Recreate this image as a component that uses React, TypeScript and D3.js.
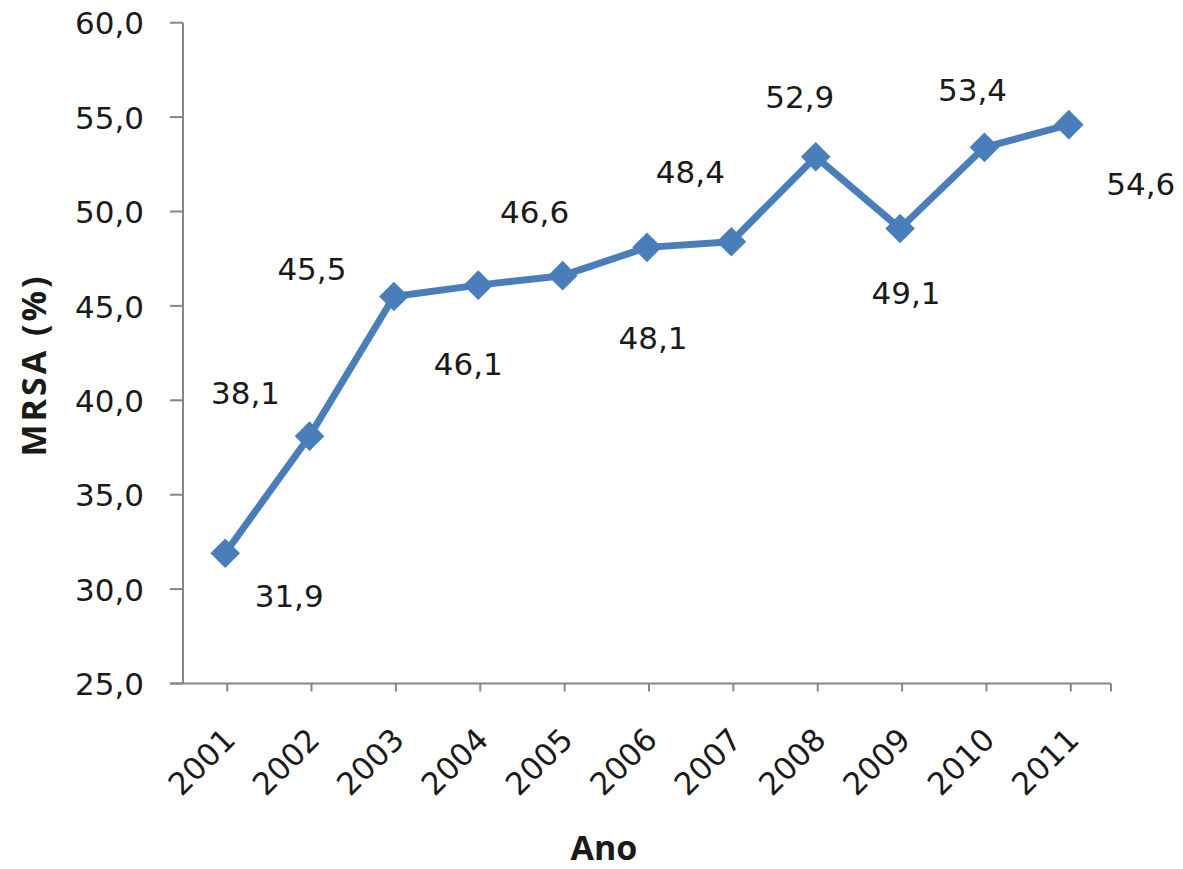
import React from "react";
import * as d3 from "d3";

// Annual MRSA share (%) of isolates
const years = ["2001", "2002", "2003", "2004", "2005", "2006", "2007", "2008", "2009", "2010", "2011"];
const mrsa = [31.9, 38.1, 45.5, 46.1, 46.6, 48.1, 48.4, 52.9, 49.1, 53.4, 54.6];
const yTicks = [25, 30, 35, 40, 45, 50, 55, 60];

// Per-point label placement (offset of label centre/baseline from the marker)
const labelOffsets: [number, number][] = [
  [64, 54], [-64, -32], [-82, -16], [-10, 90], [-28, -53], [6, 102],
  [-41, -59], [-16, -49], [6, 76], [-12, -46], [72, 70],
];

const W = 1183;
const H = 869;
const left = 183;
const right = 1111;
const top = 22.7;
const bottom = 683.5;

const FONT = "'DejaVu Sans', Verdana, sans-serif";
const TITLE_FONT = "'Open Sans', 'DejaVu Sans', sans-serif";
const LINE = "#4A7EBB";
const AXIS = "#868686";
const TEXT = "#1a1a1a";

const fmt = (v: number) => v.toFixed(1).replace(".", ",");

export default function App() {
  const x = d3.scaleBand<string>().domain(years).range([left, right]);
  const cx = (d: string) => (x(d) as number) + x.bandwidth() / 2;
  const y = d3.scaleLinear().domain([25, 60]).range([bottom, top]);

  const line = d3
    .line<number>()
    .x((_, i) => cx(years[i]))
    .y((v) => y(v));

  const diamond = d3.symbol().type(d3.symbolDiamond2).size(560)();

  return (
    <svg
      width={W}
      height={H}
      style={{ position: "absolute", left: 0, top: 0, background: "#fff" }}
      fontFamily={FONT}
    >
      {/* y axis */}
      <line x1={left} x2={left} y1={top} y2={bottom} stroke={AXIS} strokeWidth={2} />
      {yTicks.map((t) => (
        <g key={t}>
          <line x1={left - 13} x2={left} y1={y(t)} y2={y(t)} stroke={AXIS} strokeWidth={2} />
          <text
            x={left - 39}
            y={y(t)}
            dy="0.38em"
            textAnchor="end"
            fontSize={31}
            fill={TEXT}
          >
            {fmt(t)}
          </text>
        </g>
      ))}

      {/* x axis */}
      <line x1={left - 13} x2={right} y1={bottom} y2={bottom} stroke={AXIS} strokeWidth={2} />
      {years.map((yr) => (
        <g key={yr}>
          <line x1={cx(yr) + 2} x2={cx(yr) + 2} y1={bottom} y2={bottom + 8} stroke={AXIS} strokeWidth={2} />
          <text
            transform={`translate(${cx(yr) + 12},${bottom + 58}) rotate(-45)`}
            textAnchor="end"
            fontSize={31}
            fill={TEXT}
          >
            {yr}
          </text>
        </g>
      ))}
      <line x1={right} x2={right} y1={bottom} y2={bottom + 8} stroke={AXIS} strokeWidth={2} />

      {/* series */}
      <path d={line(mrsa) ?? ""} fill="none" stroke={LINE} strokeWidth={7} strokeLinejoin="round" />
      {mrsa.map((v, i) => (
        <path key={i} d={diamond ?? ""} transform={`translate(${cx(years[i])},${y(v)})`} fill={LINE} />
      ))}

      {/* value labels */}
      {mrsa.map((v, i) => (
        <text
          key={i}
          x={cx(years[i]) + labelOffsets[i][0]}
          y={y(v) + labelOffsets[i][1]}
          textAnchor="middle"
          fontSize={31}
          fill={TEXT}
        >
          {fmt(v)}
        </text>
      ))}

      {/* axis titles */}
      <text
        transform={`translate(46,365) rotate(-90)`}
        textAnchor="middle"
        fontSize={34}
        fontWeight="bold"
        letterSpacing={3}
        fill={TEXT}
        fontFamily={TITLE_FONT}
      >
        MRSA (%)
      </text>
      <text
        x={604}
        y={860}
        textAnchor="middle"
        fontSize={34}
        fontWeight="bold"
        fill={TEXT}
        fontFamily={TITLE_FONT}
      >
        Ano
      </text>
    </svg>
  );
}
